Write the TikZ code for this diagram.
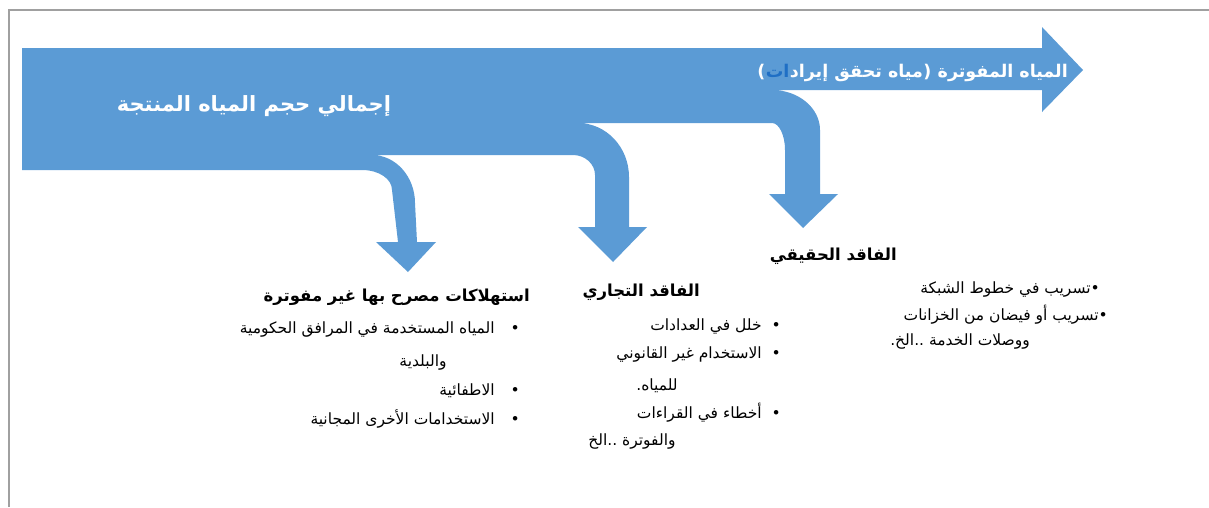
\documentclass[tikz,border=0pt]{standalone}
\usepackage{fontspec}
\setmainfont{DejaVu Sans}
\newfontfamily\arabicfont[Script=Arabic]{DejaVu Sans}
\TeXXeTstate=1
\definecolor{flowblue}{HTML}{5B9BD5}
\definecolor{framegray}{HTML}{A0A0A0}
\definecolor{accentblue}{HTML}{1F6FC5}
\newcommand{\artext}[1]{\arabicfont\beginR #1\endR}
\tikzset{
  flowlabel/.style={text=white, font=\arabicfont\bfseries, inner sep=0pt},
  billedfont/.style={font=\arabicfont\bfseries\fontsize{17.5}{21}\selectfont},
  parenfont/.style={font=\bfseries\fontsize{17.5}{21}\selectfont},
  headlabel/.style={text=black, font=\arabicfont\bfseries\fontsize{16.5}{19}\selectfont, inner sep=0pt},
  itemlabel/.style={text=black, font=\arabicfont\fontsize{15.5}{18}\selectfont, inner sep=0pt},
}
\begin{document}
\begin{tikzpicture}[x=1pt,y=-1pt]
\useasboundingbox (0,0) rectangle (1209,507);
% outer frame
\draw[framegray, line width=1.3pt] (9,507) -- (9,10) -- (1209,10);

% main flow with its three bending branches
\fill[flowblue]
  (22,48) -- (1042,48) -- (1042,27) -- (1083,70) -- (1042,112) -- (1042,90)
  -- (772,90) .. controls (798.5,90) and (820,108) .. (820,130)
  -- (820,194) -- (838,194) -- (803,228) -- (769,194) -- (785,194)
  -- (785,150) .. controls (785,135) and (779,123) .. (772,123)
  -- (578,123) .. controls (606,123) and (629,147) .. (629,177)
  -- (629,227) -- (647,227) -- (613,262) -- (578,227) -- (595,227)
  -- (595,175) .. controls (595,164) and (585,155) .. (573,155)
  -- (372,155) .. controls (396,155) and (415,177) .. (415,203)
  -- (417,242) -- (436,242) -- (408,272) -- (376,242) -- (398,242)
  -- (392,190) .. controls (392,179) and (379,170) .. (362,170)
  -- (22,170) -- cycle;

% labels on the flow (right to left, brackets set apart)
\node[flowlabel, billedfont, anchor=base east] (billed) at (1068,77)
  {\artext{المياه المفوترة}};
\node[flowlabel, parenfont, anchor=base east, xshift=-6pt] (billedclose) at (billed.base west) {)};
\node[flowlabel, billedfont, anchor=base east] (billedinner) at (billedclose.base west)
  {\artext{مياه تحقق إيراد}};
\node[flowlabel, billedfont, text=accentblue, anchor=base east] (billedend) at (billedinner.base west)
  {\artext{ات}};
\node[flowlabel, parenfont, anchor=base east] (billedopen) at (billedend.base west) {(};
\node[flowlabel, font=\arabicfont\bfseries\fontsize{21}{25}\selectfont] (input) at (254,106)
  {\artext{إجمالي حجم المياه المنتجة}};

% unbilled authorized consumption
\node[headlabel, anchor=east] (unbilledhead) at (530,297) {\artext{استهلاكات مصرح بها غير مفوترة}};
\node[itemlabel, anchor=east] (unbilleda) at (520,329) {\artext{•\hspace{16pt}المياه المستخدمة في المرافق الحكومية}};
\node[itemlabel] (unbilledb) at (423,362) {\artext{والبلدية}};
\node[itemlabel, anchor=east] (unbilledc) at (520,391) {\artext{•\hspace{16pt}الاطفائية}};
\node[itemlabel, anchor=east] (unbilledd) at (520,419) {\artext{•\hspace{16pt}الاستخدامات الأخرى المجانية}};

% apparent (commercial) losses
\node[headlabel, anchor=east] (commhead) at (700,292) {\artext{الفاقد التجاري}};
\node[itemlabel, anchor=east] (comma) at (781,326) {\artext{•\hspace{10pt}خلل في العدادات}};
\node[itemlabel, anchor=east] (commb) at (781,354) {\artext{•\hspace{10pt}الاستخدام غير القانوني}};
\node[itemlabel] (commc) at (657,386) {\artext{للمياه.}};
\node[itemlabel, anchor=east] (commd) at (781,413) {\artext{•\hspace{10pt}أخطاء في القراءات}};
\node[itemlabel] (comme) at (632,441) {\artext{والفوترة ..الخ}};

% real (physical) losses
\node[headlabel, anchor=east] (realhead) at (897,256) {\artext{الفاقد الحقيقي}};
\node[itemlabel, anchor=east] (reala) at (1100,289) {\artext{•تسريب في خطوط الشبكة}};
\node[itemlabel, anchor=east] (realb) at (1108,315) {\artext{•تسريب أو فيضان من الخزانات}};
\node[itemlabel] (realc) at (960,341) {\artext{ووصلات الخدمة ..الخ.}};
\end{tikzpicture}
\end{document}
